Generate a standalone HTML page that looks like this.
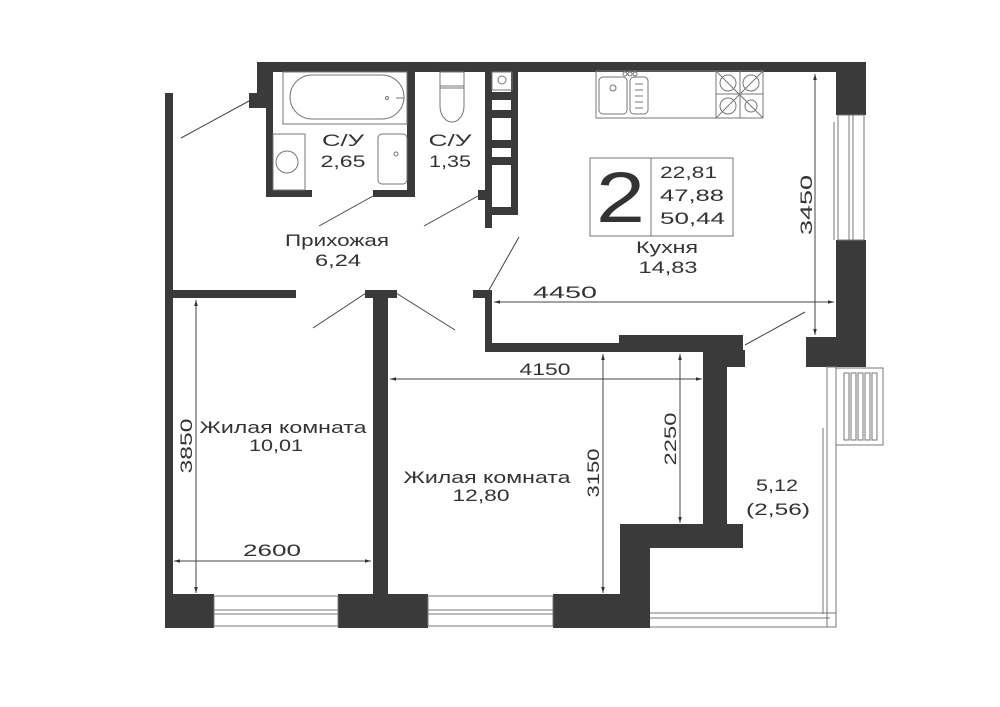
<!DOCTYPE html>
<html><head><meta charset="utf-8"><style>
html,body{margin:0;padding:0;background:#fff;}
svg{display:block}
text{font-family:"Liberation Sans",sans-serif;fill:#333;}
</style></head><body>
<svg width="1000" height="707" viewBox="0 0 1000 707" xmlns="http://www.w3.org/2000/svg">
<defs>
<marker id="a" viewBox="0 0 10 10" refX="10" refY="5" markerWidth="8" markerHeight="6" orient="auto-start-reverse"><path d="M0,2 L10,5 L0,8 z" fill="#333"/></marker>
</defs>
<g fill="#3a3a3a">
<rect x="258" y="62" width="608" height="10"/>
<rect x="257" y="62" width="16" height="32"/>
<rect x="249" y="93" width="17" height="15"/>
<rect x="266" y="62" width="7" height="135"/>
<rect x="266" y="190" width="46" height="7"/>
<rect x="373" y="190" width="42" height="7"/>
<rect x="407" y="62" width="8" height="135"/>
<rect x="485" y="62" width="7" height="166"/>
<rect x="478" y="190" width="14" height="10"/>
<rect x="511" y="62" width="7" height="153"/>
<rect x="492" y="92" width="20" height="8"/>
<rect x="492" y="110" width="20" height="8"/>
<rect x="492" y="140" width="20" height="8"/>
<rect x="492" y="157" width="20" height="8"/>
<rect x="492" y="207" width="20" height="8"/>
<rect x="836" y="62" width="30" height="53"/>
<rect x="836" y="240" width="30" height="112"/>
<rect x="806" y="337" width="60" height="30"/>
<rect x="165" y="93" width="8" height="535"/>
<rect x="165" y="290" width="131" height="8"/>
<rect x="365" y="290" width="32" height="8"/>
<rect x="373" y="290" width="15" height="305"/>
<rect x="473" y="290" width="19" height="8"/>
<rect x="485" y="290" width="7" height="62"/>
<rect x="485" y="343" width="135" height="9"/>
<rect x="619" y="335" width="124" height="17"/>
<rect x="703" y="350" width="42" height="17"/>
<rect x="703" y="350" width="24" height="198"/>
<rect x="620" y="524" width="123" height="24"/>
<rect x="620" y="524" width="30" height="104"/>
<rect x="165" y="594" width="49" height="34"/>
<rect x="338" y="594" width="90" height="34"/>
<rect x="553" y="594" width="97" height="34"/>
</g>
<g fill="none" stroke="#777" stroke-width="1">
<rect x="214" y="596" width="124" height="30"/>
<line x1="214" y1="610" x2="338" y2="610"/><line x1="214" y1="614" x2="338" y2="614"/>
<rect x="428" y="596" width="125" height="30"/>
<line x1="428" y1="610" x2="553" y2="610"/><line x1="428" y1="614" x2="553" y2="614"/>
<rect x="838" y="115" width="26" height="125"/>
<line x1="849" y1="115" x2="849" y2="240"/><line x1="853" y1="115" x2="853" y2="240"/>
<line x1="834" y1="122" x2="834" y2="240"/>
<rect x="827" y="367" width="9" height="260"/>
<line x1="650" y1="613" x2="836" y2="613"/>
<line x1="650" y1="618" x2="830" y2="618"/>
<line x1="650" y1="627" x2="836" y2="627"/>
<line x1="823" y1="428" x2="823" y2="614"/>
<rect x="836" y="368" width="47" height="77"/>
<rect x="844" y="373" width="5" height="67"/><rect x="851" y="373" width="5" height="67"/><rect x="858" y="373" width="5" height="67"/><rect x="865" y="373" width="5" height="67"/><rect x="872" y="373" width="5" height="67"/>
<rect x="283" y="72" width="124" height="52"/>
<rect x="290" y="75" width="114" height="44" rx="22"/>
<circle cx="387" cy="98" r="1.5"/><line x1="396" y1="98" x2="404" y2="98"/>
<rect x="273" y="134" width="32" height="56"/>
<circle cx="287" cy="162" r="11"/>
<rect x="378" y="134" width="29" height="50" rx="4"/>
<circle cx="396" cy="154" r="2"/>
<rect x="440" y="72" width="24" height="16"/>
<path d="M440 86 h24 v20 a12 16 0 0 1 -24 0 z"/>
<rect x="492" y="72" width="20" height="18"/><circle cx="502" cy="80" r="4"/>
<rect x="596" y="71" width="167" height="47"/>
<rect x="599" y="77" width="28" height="37" rx="4"/>
<rect x="630" y="77" width="18" height="37" rx="4"/>
<line x1="635" y1="84" x2="643" y2="84"/><line x1="635" y1="90" x2="643" y2="90"/><line x1="635" y1="96" x2="643" y2="96"/><line x1="635" y1="102" x2="643" y2="102"/><line x1="635" y1="108" x2="643" y2="108"/>
<circle cx="613" cy="88" r="3"/>
<circle cx="625" cy="74" r="2"/><circle cx="630" cy="74" r="2"/><circle cx="635" cy="74" r="2"/>
<rect x="716" y="71" width="47" height="47"/>
<line x1="716" y1="71" x2="763" y2="118"/><line x1="763" y1="71" x2="716" y2="118"/>
<line x1="740" y1="71" x2="740" y2="118"/><line x1="716" y1="94" x2="763" y2="94"/>
<circle cx="728" cy="83" r="8"/><circle cx="751" cy="83" r="8"/><circle cx="728" cy="106" r="8"/><circle cx="751" cy="106" r="6"/>
<rect x="590" y="158" width="143" height="78"/>
<line x1="651" y1="158" x2="651" y2="236"/>
</g>
<g stroke="#444" stroke-width="1">
<line x1="181" y1="138" x2="249" y2="101"/>
<line x1="319" y1="226" x2="373" y2="196"/>
<line x1="424" y1="226" x2="478" y2="196"/>
<line x1="489" y1="290" x2="519" y2="237"/>
<line x1="313" y1="328" x2="366" y2="293"/>
<line x1="396" y1="293" x2="455" y2="330"/>
<line x1="745" y1="345" x2="805" y2="312"/>
<line x1="494" y1="302" x2="834" y2="302" marker-start="url(#a)" marker-end="url(#a)"/>
<line x1="815" y1="74" x2="815" y2="335" marker-start="url(#a)" marker-end="url(#a)"/>
<line x1="390" y1="379" x2="702" y2="379" marker-start="url(#a)" marker-end="url(#a)"/>
<line x1="603" y1="354" x2="603" y2="593" marker-start="url(#a)" marker-end="url(#a)"/>
<line x1="680" y1="354" x2="680" y2="523" marker-start="url(#a)" marker-end="url(#a)"/>
<line x1="196" y1="300" x2="196" y2="593" marker-start="url(#a)" marker-end="url(#a)"/>
<line x1="174" y1="561" x2="371" y2="561" marker-start="url(#a)" marker-end="url(#a)"/>
</g>
<g font-size="17" text-anchor="middle" lengthAdjust="spacingAndGlyphs">
<text x="565" y="298" textLength="64" lengthAdjust="spacingAndGlyphs">4450</text>
<text x="545" y="375" textLength="51" lengthAdjust="spacingAndGlyphs">4150</text>
<text x="272" y="556" textLength="58" lengthAdjust="spacingAndGlyphs">2600</text>
<text transform="translate(812,205) rotate(-90)" textLength="60" lengthAdjust="spacingAndGlyphs">3450</text>
<text transform="translate(599,473) rotate(-90)" textLength="49" lengthAdjust="spacingAndGlyphs">3150</text>
<text transform="translate(676,439) rotate(-90)" textLength="53" lengthAdjust="spacingAndGlyphs">2250</text>
<text transform="translate(192,446) rotate(-90)" textLength="55" lengthAdjust="spacingAndGlyphs">3850</text>
<text x="343" y="146" textLength="42" lengthAdjust="spacingAndGlyphs">С/У</text><text x="343" y="167" textLength="45" lengthAdjust="spacingAndGlyphs">2,65</text>
<text x="450" y="146" textLength="43" lengthAdjust="spacingAndGlyphs">С/У</text><text x="450" y="167" textLength="42" lengthAdjust="spacingAndGlyphs">1,35</text>
<text x="337" y="246" textLength="104" lengthAdjust="spacingAndGlyphs">Прихожая</text><text x="338" y="266" textLength="46" lengthAdjust="spacingAndGlyphs">6,24</text>
<text x="667" y="253" textLength="62" lengthAdjust="spacingAndGlyphs">Кухня</text><text x="668" y="273" textLength="59" lengthAdjust="spacingAndGlyphs">14,83</text>
<text x="283" y="433" textLength="167" lengthAdjust="spacingAndGlyphs">Жилая комната</text><text x="276" y="451" textLength="54" lengthAdjust="spacingAndGlyphs">10,01</text>
<text x="487" y="483" textLength="167" lengthAdjust="spacingAndGlyphs">Жилая комната</text><text x="481" y="501" textLength="57" lengthAdjust="spacingAndGlyphs">12,80</text>
<text x="777" y="491" textLength="42" lengthAdjust="spacingAndGlyphs">5,12</text><text x="778" y="515" textLength="64" lengthAdjust="spacingAndGlyphs">(2,56)</text>
</g>
<g font-size="17" text-anchor="start">
<text x="660" y="178" textLength="57" lengthAdjust="spacingAndGlyphs">22,81</text>
<text x="660" y="201" textLength="64" lengthAdjust="spacingAndGlyphs">47,88</text>
<text x="660" y="224" textLength="65" lengthAdjust="spacingAndGlyphs">50,44</text>
<text x="596" y="222" font-size="71" textLength="49" lengthAdjust="spacingAndGlyphs">2</text>
</g>
</svg>
</body></html>
